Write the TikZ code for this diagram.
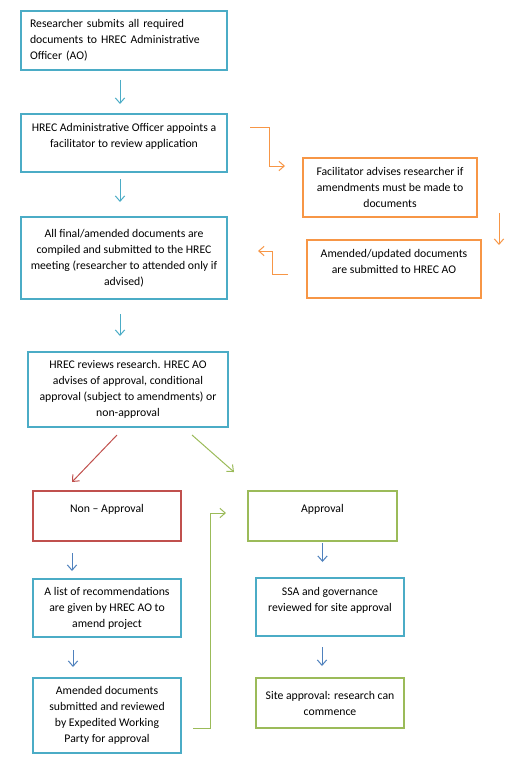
\documentclass[tikz,border=0pt]{standalone}
\usepackage{fontspec}
\setmainfont{Carlito}
\usetikzlibrary{arrows.meta}
\definecolor{tealline}{HTML}{4BACC6}
\definecolor{blueline}{HTML}{4F81BD}
\definecolor{orangeline}{HTML}{F79646}
\definecolor{redline}{HTML}{C0504D}
\definecolor{greenline}{HTML}{9BBB59}
\definecolor{ink}{HTML}{000000}

\begin{document}
\begin{tikzpicture}[x=0.75pt,y=-0.75pt,>={Straight Barb[length=4pt,width=7pt]}]
 \tikzstyle{stepbox}=[rectangle,draw=tealline,line width=1.5pt,inner sep=0pt,align=center,text=ink,font=\fontsize{8.8}{12}\selectfont]
 \tikzstyle{flow}=[->,line width=0.75pt]
 \useasboundingbox (0,0) rectangle (517,767);
 \node[stepbox,align=left,text width=141pt,minimum width=154.5pt,minimum height=44.25pt] (submit) at (124,40.5) {Researcher submits all required\\documents to HREC Administrative\\Officer (AO)};
 \node[stepbox,minimum width=154.5pt,minimum height=43.5pt] (appoint) at (124,143) {HREC Administrative Officer appoints a\\facilitator to review application\\\mbox{}};
 \node[stepbox,minimum width=154.5pt,minimum height=61.5pt] (compile) at (124,258) {All final/amended documents are\\compiled and submitted to the HREC\\meeting (researcher to attended only if\\advised)};
 \node[stepbox,minimum width=150pt,minimum height=56.25pt] (review) at (128,389.5) {HREC reviews research. HREC AO\\advises of approval, conditional\\approval (subject to amendments) or\\non-approval};
 \node[stepbox,draw=orangeline,minimum width=130.5pt,minimum height=44.25pt] (advise) at (390,187.5) {Facilitator advises researcher if\\amendments must be made to\\documents};
 \node[stepbox,draw=orangeline,minimum width=130.5pt,minimum height=43.5pt] (updated) at (394,269) {Amended/updated documents\\are submitted to HREC AO\\\mbox{}};
 \node[stepbox,draw=redline,minimum width=111pt,minimum height=37.5pt] (nonapp) at (107,516) {Non – Approval\\\mbox{}};
 \node[stepbox,minimum width=111pt,minimum height=43.5pt] (recs) at (107,608) {A list of recommendations\\are given by HREC AO to\\amend project};
 \node[stepbox,minimum width=111pt,minimum height=56.25pt] (expedite) at (107,715.5) {Amended documents\\submitted and reviewed\\by Expedited Working\\Party for approval};
 \node[stepbox,draw=greenline,minimum width=111.75pt,minimum height=37.5pt] (approval) at (322.5,516) {Approval\\\mbox{}};
 \node[stepbox,minimum width=111pt,minimum height=43.5pt] (ssa) at (330,607) {SSA and governance\\reviewed for site approval\\\mbox{}};
 \node[stepbox,draw=greenline,minimum width=111pt,minimum height=37.5pt] (site) at (330,703) {Site approval: research can\\commence};
 \draw[flow,tealline,shorten <=6.75pt,shorten >=6.75pt] ([xshift=-3pt]submit.south) -- ([xshift=-3pt]appoint.north);
 \draw[flow,tealline,shorten <=4.5pt,shorten >=10.5pt] ([xshift=-3pt]appoint.south) -- ([xshift=-3pt]compile.north);
 \draw[flow,tealline,shorten <=10.5pt,shorten >=11.25pt] ([xshift=-3pt]compile.south) -- ([xshift=-3pt]compile.south |- review.north);
 \draw[flow,orangeline] ([shift={(22,-16)}]appoint.east) -- ++(19,0) |- ([shift={(-17,-21.5)}]advise.west);
 \draw[flow,orangeline] ([shift={(21,-5)}]advise.south east) -- ([shift={(17,6)}]updated.north east);
 \draw[flow,orangeline] ([shift={(-18,5)}]updated.west) -- ++(-16,0) |- ([shift={(30,-7)}]compile.east);
 \draw[flow,redline] ([shift={(-11,7)}]review.south) -- ([shift={(-35,-8)}]nonapp.north);
 \draw[flow,greenline] ([shift={(64,7)}]review.south) -- ([shift={(-88.5,-18)}]approval.north);
 \draw[flow,blueline,shorten <=8.25pt,shorten >=5.25pt] ([xshift=-26.25pt]nonapp.south) -- ([xshift=-26.25pt]recs.north);
 \draw[flow,blueline,shorten <=9pt,shorten >=7.5pt] ([xshift=-25.5pt]recs.south) -- ([xshift=-25.5pt]expedite.north);
 \draw[flow,greenline] ([shift={(11,12.5)}]expedite.east) -- ++(17,0) |- ([shift={(-21,-3)}]approval.west);
 \draw[flow,blueline,shorten <=0.75pt,shorten >=11.25pt] (approval.south) -- (approval.south |- ssa.north);
 \draw[flow,blueline,shorten <=7.5pt,shorten >=8.25pt] ([xshift=-6pt]ssa.south) -- ([xshift=-6pt]site.north);
\end{tikzpicture}
\end{document}
